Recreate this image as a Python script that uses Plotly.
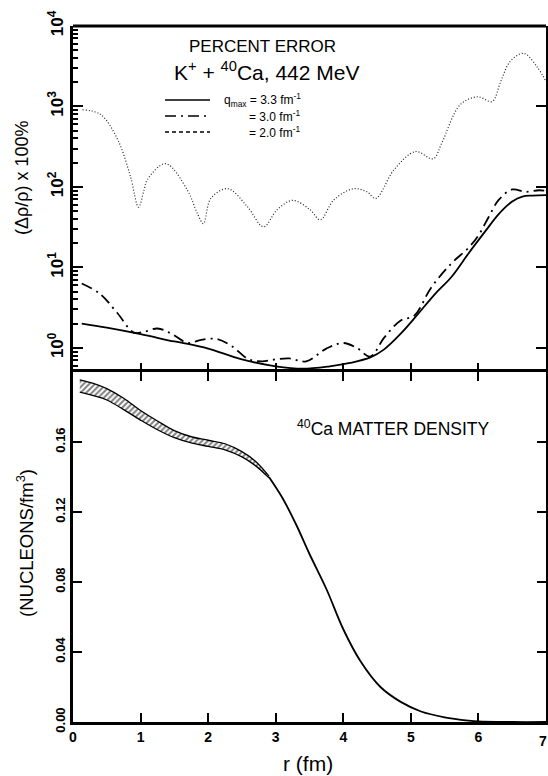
import plotly.graph_objects as go
from plotly.subplots import make_subplots

# ---------------- data ----------------
# percent error, q_max = 3.3 fm^-1 (solid)
r_q33 = [0.13, 0.5, 1.0, 1.5, 1.7, 2.0, 2.5, 3.0, 3.4, 3.8, 4.1, 4.4, 4.6, 4.85,
         5.1, 5.35, 5.6, 5.85, 6.1, 6.3, 6.5, 6.65, 6.8, 7.0]
err_q33 = [2.0, 1.78, 1.48, 1.2, 1.12, 0.98, 0.72, 0.59, 0.55, 0.59, 0.65, 0.76, 0.95, 1.5,
           2.6, 4.6, 7.6, 14.8, 28, 46, 66, 76, 78, 79]

# percent error, q_max = 3.0 fm^-1 (dash-dot)
r_q30 = [0.13, 0.4, 0.65, 0.9, 1.05, 1.25, 1.45, 1.7, 1.9, 2.13, 2.35, 2.6, 2.8, 3.0,
         3.2, 3.45, 3.75, 4.0, 4.2, 4.4, 4.6, 4.85, 5.05, 5.3, 5.6, 5.85, 6.0, 6.15,
         6.3, 6.5, 6.7, 6.9, 7.0]
err_q30 = [6.3, 4.68, 2.75, 1.55, 1.58, 1.74, 1.51, 1.15, 1.26, 1.29, 1.05, 0.72, 0.68, 0.72,
           0.74, 0.68, 0.98, 1.15, 1.0, 0.78, 1.32, 2.19, 2.51, 5.6, 11.2, 17.4, 25, 42,
           69, 93, 87, 91, 89]

# percent error, q_max = 2.0 fm^-1 (dotted)
r_q20 = [0.14, 0.41, 0.66, 0.85, 0.97, 1.05, 1.1, 1.37, 1.69, 1.84, 1.93, 2.04, 2.29, 2.58,
         2.82, 3.02, 3.25, 3.51, 3.66, 3.86, 4.15, 4.35, 4.48, 4.75, 5.07, 5.33, 5.46,
         5.73, 5.99, 6.2, 6.33, 6.47, 6.67, 6.87, 7.0]
err_q20 = [910, 794, 389, 135, 56, 91, 123, 195, 92, 47, 35, 72, 95, 57,
           32, 52, 68, 52, 39, 69, 95, 87, 72, 163, 275, 224, 355,
           1050, 1320, 1150, 2040, 3630, 4570, 3090, 2040]

# 40Ca matter density: uncertainty band and single curve
r_band = [0.1, 0.3, 0.5, 0.75, 1.0, 1.25, 1.5, 1.75, 2.0, 2.25, 2.5, 2.7, 2.9]
dens_upper = [0.1955, 0.1935, 0.1905, 0.185, 0.178, 0.172, 0.1665, 0.163, 0.161, 0.159,
              0.1545, 0.149, 0.1405]
dens_lower = [0.1885, 0.1865, 0.184, 0.1785, 0.1725, 0.167, 0.1625, 0.1595, 0.1575, 0.1555,
              0.1515, 0.1465, 0.1395]
r_dens = [2.9, 3.1, 3.3, 3.5, 3.75, 4.0, 4.25, 4.55, 4.85, 5.15, 5.5, 5.85, 6.0, 6.5, 7.0]
dens = [0.140, 0.128, 0.113, 0.096, 0.076, 0.053, 0.035, 0.020, 0.0115, 0.006, 0.0027,
        0.0008, 0.0003, 0.0, 0.0]

x_tickvals = [0, 1, 2, 3, 4, 5, 6, 7]
x_ticktext = ["0", "1", "2", "3", "4", "5", "6", "7"]
err_tickvals = [1, 10, 100, 1000, 10000]
err_ticktext = ["10<sup>0</sup>", "10<sup>1</sup>", "10<sup>2</sup>", "10<sup>3</sup>", "10<sup>4</sup>"]
err_minor_vals = [m * 10 ** k for k in range(-1, 4) for m in range(2, 10) if 0.5 <= m * 10 ** k <= 10000]
dens_tickvals = [0.0, 0.04, 0.08, 0.12, 0.16]
dens_ticktext = ["0.00", "0.04", "0.08", "0.12", "0.16"]

legend_labels = ["q<sub>max</sub> = 3.3 fm<sup>-1</sup>", "= 3.0 fm<sup>-1</sup>", "= 2.0 fm<sup>-1</sup>"]

# ---------------- figure ----------------
FONT = "Liberation Sans"
W, H = 548, 776
ML, MR, MT, MB = 73, 2, 26, 54
PW, PH = W - ML - MR, H - MT - MB


def px(x):
    return (x - ML) / PW


def py(y):
    return (H - MB - y) / PH


fig = make_subplots(rows=2, cols=1, shared_xaxes=False, vertical_spacing=0,
                    row_heights=[346 / PH, 350 / PH])

fig.add_trace(go.Scatter(x=r_q20, y=err_q20, mode="lines", line_shape="spline",
                         line=dict(color="#222", width=1.2, dash="1px,2px")), row=1, col=1)
fig.add_trace(go.Scatter(x=r_q30, y=err_q30, mode="lines", line_shape="spline",
                         line=dict(color="black", width=1.8, dash="11px,5px,2px,5px")), row=1, col=1)
fig.add_trace(go.Scatter(x=r_q33, y=err_q33, mode="lines", line_shape="spline",
                         line=dict(color="black", width=1.8)), row=1, col=1)

fig.add_trace(go.Scatter(x=r_band, y=dens_lower, mode="lines", line_shape="spline",
                         line=dict(color="black", width=1.3)), row=2, col=1)
fig.add_trace(go.Scatter(x=r_band, y=dens_upper, mode="lines", line_shape="spline",
                         line=dict(color="black", width=1.3), fill="tonexty",
                         fillcolor="white",
                         fillpattern=dict(shape="/", size=4, solidity=0.5,
                                          fgcolor="black", bgcolor="white")), row=2, col=1)
fig.add_trace(go.Scatter(x=r_dens, y=dens, mode="lines", line_shape="spline",
                         line=dict(color="black", width=1.8)), row=2, col=1)

# empty helper trace carrying the overlay axis for the minor log ticks
fig.add_trace(go.Scatter(x=[None], y=[None], xaxis="x", yaxis="y3", mode="lines",
                         hoverinfo="skip"))

axis_common = dict(linecolor="black", linewidth=3, showgrid=False, automargin=False,
                   zeroline=False, ticks="inside", tickcolor="black", tickwidth=1.8)

# top panel x axis: ticks only (boundary line comes from the lower panel's mirror line)
fig.update_xaxes(range=[0, 7], tickvals=x_tickvals[1:-1], showticklabels=False,
                 ticklen=9, showline=False, row=1, col=1, **axis_common)
fig.update_xaxes(range=[0, 7], tickvals=x_tickvals[:-1], ticktext=x_ticktext[:-1], ticklen=9,
                 showline=True, mirror="ticks", row=2, col=1,
                 tickfont=dict(family=FONT, size=14, color="black", weight="bold"),
                 **axis_common)
fig.update_yaxes(type="log", range=[-0.3, 4.0], tickvals=err_tickvals, ticktext=err_ticktext,
                 ticklen=10, showline=True, mirror="ticks", tickangle=-90, row=1, col=1,
                 tickfont=dict(family=FONT, size=17, color="black", weight="bold"),
                 **axis_common)
fig.update_yaxes(range=[0, 0.2], tickvals=dens_tickvals, ticktext=dens_ticktext,
                 ticklen=9, showline=True, mirror="ticks", tickangle=-90, row=2, col=1,
                 tickfont=dict(family=FONT, size=13, color="black", weight="bold"),
                 **axis_common)

ann = []
ann.append(dict(x=px(262), y=py(47), text="PERCENT ERROR",
                font=dict(family=FONT, size=17, color="black")))
ann.append(dict(x=px(266), y=py(71), text="K<sup>+</sup> + <sup>40</sup>Ca, 442 MeV",
                font=dict(family=FONT, size=21, color="black")))
ann.append(dict(x=px(393), y=py(428), text="<sup>40</sup>Ca MATTER DENSITY",
                font=dict(family=FONT, size=17.5, color="black")))
ann.append(dict(x=px(22), y=py(178), text="(\u0394\u03c1/\u03c1) x 100%", textangle=-90,
                font=dict(family=FONT, size=18, color="black")))
ann.append(dict(x=px(25), y=py(543), text="(NUCLEONS/fm<sup>3</sup>)", textangle=-90,
                font=dict(family=FONT, size=18.5, color="black")))
ann.append(dict(x=px(308), y=py(763), text="r (fm)",
                font=dict(family=FONT, size=21, color="black")))
# last x tick label, which sits on the right frame
ann.append(dict(x=px(543), y=py(741), text=x_ticktext[-1],
                font=dict(family=FONT, size=14, color="black", weight="bold")))

rows_y = [100, 116, 132]
text_x = [222, 247, 247]
dashes = ["solid", "11px,5px,2px,5px", "4px,3px"]
shapes = [dict(type="line", xref="paper", yref="paper", x0=0, x1=1, y0=1, y1=1,
               line=dict(color="black", width=3))]
for lab, yy, tx, ds in zip(legend_labels, rows_y, text_x, dashes):
    shapes.append(dict(type="line", xref="paper", yref="paper", x0=px(165), x1=px(210),
                       y0=py(yy), y1=py(yy), line=dict(color="black", width=1.5, dash=ds)))
    ann.append(dict(x=px(tx), y=py(yy), text=lab, xanchor="left",
                    font=dict(family=FONT, size=12, color="black")))

for a in ann:
    a.setdefault("xanchor", "center")
    a.update(xref="paper", yref="paper", yanchor="middle", showarrow=False)

fig.update_layout(width=W, height=H, margin=dict(l=ML, r=MR, t=MT, b=MB, autoexpand=False),
                  paper_bgcolor="white", plot_bgcolor="white", showlegend=False,
                  annotations=ann, shapes=shapes,
                  yaxis3=dict(overlaying="y", anchor="x", side="left", type="log",
                              range=[-0.3, 4.0], tickmode="array", tickvals=err_minor_vals,
                              ticks="inside", ticklen=5, tickwidth=1.5, tickcolor="black",
                              showticklabels=False, showline=False, showgrid=False,
                              zeroline=False, automargin=False, fixedrange=True))

fig.write_html("out.html", config={"displayModeBar": False},
               post_script="document.body.style.margin='0px';")
